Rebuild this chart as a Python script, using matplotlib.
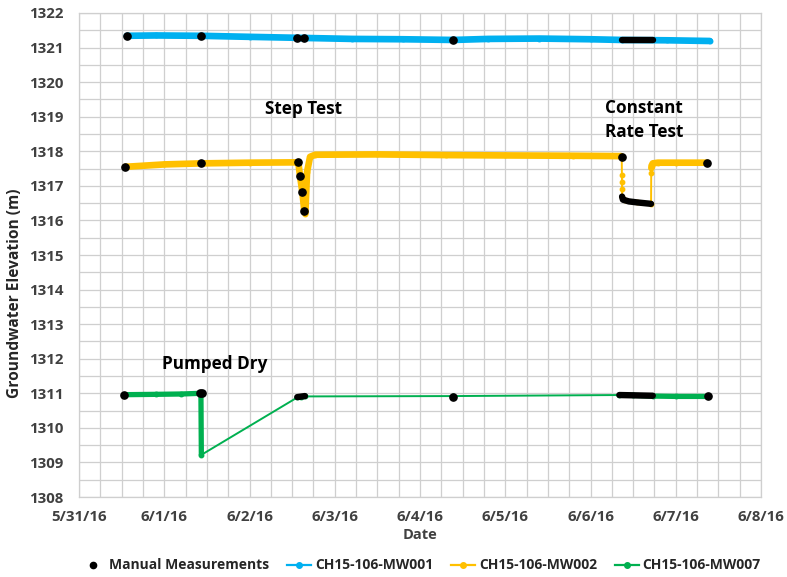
import numpy as np
import pandas as pd
import matplotlib
matplotlib.use('Agg')
import matplotlib.pyplot as plt
import matplotlib.dates as mdates
from matplotlib.lines import Line2D

plt.rcParams['font.family'] = ['Open Sans', 'DejaVu Sans']
plt.rcParams['font.weight'] = 'bold'

# days since 5/31/16 00:00
T0 = pd.Timestamp('2016-05-31')

# transducer records
mw001_days = [0.56, 0.9, 1.43, 2.0, 2.6, 3.2, 3.8, 4.39, 4.8, 5.4, 6.0, 6.37, 6.9, 7.40]
mw001_elev = [1321.34, 1321.35, 1321.34, 1321.31, 1321.28, 1321.25, 1321.24, 1321.22,
              1321.25, 1321.26, 1321.24, 1321.22, 1321.21, 1321.19]

mw002_days = [0.54, 1.0, 1.43, 2.0, 2.557, 2.572, 2.592, 2.62, 2.643, 2.655, 2.675, 2.71, 2.77,
              3.5, 4.3, 5.0, 5.8, 6.36, 6.366, 6.368, 6.369, 6.37, 6.372, 6.40, 6.55, 6.71,
              6.712, 6.714, 6.716, 6.73, 6.79, 7.0, 7.37]
mw002_elev = [1317.55, 1317.62, 1317.65, 1317.67, 1317.68, 1317.69, 1317.29, 1316.82, 1316.26,
              1316.20, 1317.40, 1317.84, 1317.90, 1317.91, 1317.89, 1317.88, 1317.87, 1317.86,
              1317.83, 1317.32, 1317.12, 1316.91, 1316.69, 1316.58, 1316.52, 1316.48,
              1317.38, 1317.52, 1317.58, 1317.65, 1317.67, 1317.67, 1317.67]

mw007_days = [0.528, 0.9, 1.2, 1.43, 1.435, 2.56, 2.6, 2.65, 4.39, 6.338, 6.5, 6.73, 7.0, 7.38]
mw007_elev = [1310.96, 1310.97, 1310.98, 1311.00, 1309.22, 1310.88, 1310.90, 1310.91,
              1310.92, 1310.95, 1310.94, 1310.92, 1310.91, 1310.91]

# stretches where the logger reads so often the markers merge into a thick band
mw001_dense = [(0.5, 7.5)]
mw002_dense = [(0.5, 6.367), (6.714, 7.5)]
mw007_dense = [(0.5, 1.436), (6.338, 7.5)]

# manual measurements (single readings)
man_days = [0.56, 1.43, 2.557, 2.64, 4.39,
            0.54, 1.43, 2.572, 2.592, 2.62, 2.643, 6.366, 7.37,
            0.528, 1.425, 1.44, 4.39, 7.38]
man_elev = [1321.34, 1321.34, 1321.28, 1321.28, 1321.22,
            1317.55, 1317.66, 1317.69, 1317.29, 1316.82, 1316.26, 1317.83, 1317.67,
            1310.96, 1311.01, 1311.01, 1310.90, 1310.91]

# runs of frequent manual readings
man_run_days = [[6.37, 6.73], [6.37, 6.38, 6.45, 6.55, 6.71], [2.56, 2.65], [6.338, 6.73]]
man_run_elev = [[1321.21, 1321.21], [1316.69, 1316.60, 1316.55, 1316.52, 1316.48],
                [1310.89, 1310.92], [1310.95, 1310.93]]

series_names = ['CH15-106-MW001', 'CH15-106-MW002', 'CH15-106-MW007']
series_colors = ['#00B0F0', '#FFC000', '#00B050']
series_lw = [4.8, 4.8, 3.8]

notes = ['Step Test', 'Constant\nRate Test', 'Pumped Dry']
note_days = [2.63, 6.17, 1.595]
note_elev = [1319.23, 1318.9, 1311.86]


def to_dt(days):
    return T0 + pd.to_timedelta(np.asarray(days, dtype=float), unit='D')


fig = plt.figure(figsize=(7.87, 5.77), dpi=100)
ax = fig.add_axes([0.1004, 0.1386, 0.8666, 0.8389])

records = [(mw001_days, mw001_elev, mw001_dense),
           (mw002_days, mw002_elev, mw002_dense),
           (mw007_days, mw007_elev, mw007_dense)]
for (d, v, dense), c, lw in zip(records, series_colors, series_lw):
    d = np.array(d)
    v = np.array(v)
    ax.plot(to_dt(d), v, color=c, lw=1.4, marker='o', ms=3.2, zorder=3)
    for a, b in dense:
        m = (d >= a) & (d <= b)
        ax.plot(to_dt(d[m]), v[m], color=c, lw=lw, solid_capstyle='round',
                solid_joinstyle='round', zorder=3)

for d, v in zip(man_run_days, man_run_elev):
    ax.plot(to_dt(d), v, color='black', lw=4.6, solid_capstyle='round', zorder=4)
ax.plot(to_dt(man_days), man_elev, ls='', marker='o', color='black', ms=5.2, zorder=5)

for txt, d, v in zip(notes, note_days, note_elev):
    ha = 'left' if '\n' in txt else 'center'
    ax.text(to_dt([d])[0], v, txt, ha=ha, va='center', fontsize=12.3,
            fontweight='bold', color='black', linespacing=1.45)

ax.set_xlim(to_dt([0])[0], to_dt([8])[0])
ax.set_ylim(1308, 1322)
ax.set_yticks(np.arange(1308, 1323, 1))
ax.set_yticks(np.arange(1308, 1322, 0.5), minor=True)
ax.xaxis.set_major_locator(mdates.DayLocator())
ax.xaxis.set_minor_locator(mdates.HourLocator(byhour=[6, 12, 18]))
ax.xaxis.set_major_formatter(mdates.DateFormatter('%-m/%-d/%y'))

ax.grid(True, which='both', color='#cfcfcf', lw=0.9)
ax.set_axisbelow(True)
for s in ax.spines.values():
    s.set_color('#cfcfcf')
    s.set_linewidth(0.9)

ax.tick_params(axis='both', which='both', length=0, labelsize=10.8,
               labelcolor='#404040')
ax.tick_params(axis='y', pad=11)
ax.tick_params(axis='x', pad=9)
for lbl in ax.get_xticklabels() + ax.get_yticklabels():
    lbl.set_fontweight('bold')

ax.set_xlabel('Date', fontsize=10.5, fontweight='bold', color='#404040', labelpad=3)
ax.set_ylabel('Groundwater Elevation (m)', fontsize=11.2, fontweight='bold', color='#262626')
ax.yaxis.set_label_coords(-0.082, 0.42)

handles = [Line2D([], [], ls='', marker='o', color='black', ms=4.5)]
for c in series_colors:
    handles.append(Line2D([], [], color=c, lw=1.6, marker='o', ms=4))
fig.legend(handles, ['Manual Measurements'] + series_names, loc='center',
           bbox_to_anchor=(0.535, 0.02), ncol=4, frameon=False,
           handlelength=1.7, handletextpad=0.3, columnspacing=1.3,
           labelcolor='#262626', prop={'family': ['Open Sans', 'DejaVu Sans'],
                                       'weight': 'bold', 'size': 10})

fig.savefig('out.png', dpi=100)
